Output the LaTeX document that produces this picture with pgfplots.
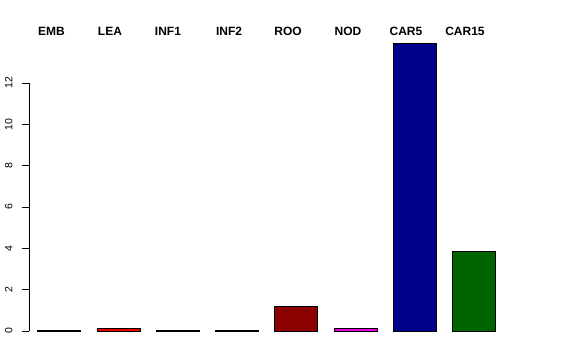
\documentclass[border=0pt]{standalone}
\usepackage{fontspec}
\setmainfont{Liberation Sans}
\usepackage{pgfplots}
\pgfplotsset{compat=1.18}
\definecolor{cEMB}{RGB}{0,0,0}
\definecolor{cLEA}{RGB}{230,0,0}
\definecolor{cINF1}{RGB}{0,80,0}
\definecolor{cINF2}{RGB}{40,40,70}
\definecolor{cROO}{RGB}{139,0,0}
\definecolor{cNOD}{RGB}{230,0,230}
\definecolor{cCAR5}{RGB}{0,0,139}
\definecolor{cCAR15}{RGB}{0,100,0}
\begin{document}
\begin{tikzpicture}
\begin{axis}[
  scale only axis, width=531pt, height=301pt,
  xmin=-0.506, xmax=8.449, ymin=0, ymax=14.56,
  clip=false,
  axis x line=none,
  axis y line*=left,
  y axis line style={draw=none},
  ytick={0,2,4,6,8,10,12},
  tick align=outside,
  major tick length=7pt,
  tick style={black, line width=0.6pt},
  yticklabel style={xshift=-6pt, rotate=90, anchor=south, font=\fontsize{10.5}{12}\selectfont},
  /pgf/number format/assume math mode=true,
  ybar, bar width=43pt, bar shift=0pt,
]
\draw[black, line width=0.6pt] (axis cs:-0.506,0) -- (axis cs:-0.506,12);
\addplot[fill=cEMB, draw=black] coordinates {(0,0.05)};
\addplot[fill=cLEA, draw=black] coordinates {(1,0.15)};
\addplot[fill=cINF1, draw=black] coordinates {(2,0.06)};
\addplot[fill=cINF2, draw=black] coordinates {(3,0.03)};
\addplot[fill=cROO, draw=black] coordinates {(4,1.22)};
\addplot[fill=cNOD, draw=black] coordinates {(5,0.15)};
\addplot[fill=cCAR5, draw=black] coordinates {(6,13.93)};
\addplot[fill=cCAR15, draw=black] coordinates {(7,3.87)};
\begin{scope}[every node/.style={font=\fontsize{12}{14}\selectfont\bfseries}]
\node at (axis cs:-0.126,14.51) {EMB};
\node at (axis cs:0.860,14.51) {LEA};
\node at (axis cs:1.838,14.51) {INF1};
\node at (axis cs:2.867,14.51) {INF2};
\node at (axis cs:3.862,14.51) {ROO};
\node at (axis cs:4.874,14.51) {NOD};
\node at (axis cs:5.852,14.51) {CAR5};
\node at (axis cs:6.847,14.51) {CAR15};
\end{scope}
\end{axis}
\pgfresetboundingbox
\path (current axis.south west) ++(-29pt,-29pt) rectangle ++(576pt,360pt);
\end{tikzpicture}
\end{document}
